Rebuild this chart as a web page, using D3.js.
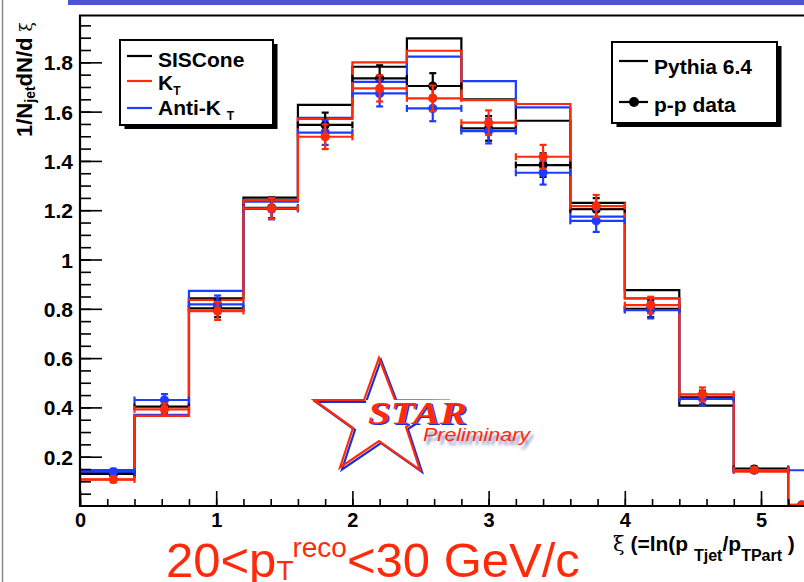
<!DOCTYPE html>
<html>
<head>
<meta charset="utf-8">
<script src="https://cdn.jsdelivr.net/npm/d3@7"></script>
<style>
body { margin: 0; background: #fff; }
svg { display: block; font-family: "Liberation Sans", Arial, Helvetica, sans-serif; }
</style>
</head>
<body>
<script>
//bin edges of xi (width 0.4)
var binEdges = [0, 0.4, 0.8, 1.2, 1.6, 2.0, 2.4, 2.8, 3.2, 3.6, 4.0, 4.4, 4.8, 5.2, 5.6];

//Pythia 6.4 histograms, one per jet algorithm
var pythiaSIScone = [0.133, 0.366, 0.842, 1.251, 1.627, 1.782, 1.897, 1.650, 1.563, 1.230, 0.876, 0.407, 0.152, 0.005];
var pythiaKt      = [0.107, 0.366, 0.836, 1.241, 1.570, 1.800, 1.847, 1.647, 1.631, 1.205, 0.842, 0.443, 0.139, 0.004];
var pythiaAntiKt  = [0.146, 0.370, 0.873, 1.235, 1.575, 1.721, 1.823, 1.724, 1.617, 1.174, 0.842, 0.435, 0.145, 0.145];

//p-p data points (mean xi of each bin) and errors
var dataXi      = [0.245, 0.62, 1.01, 1.407, 1.80, 2.20, 2.59, 3.0, 3.40, 3.79, 4.19, 4.57, 4.95, 5.30];
var dataSIScone = [0.130, 0.403, 0.802, 1.210, 1.546, 1.735, 1.704, 1.532, 1.383, 1.204, 0.800, 0.440, 0.150, 0.004];
var dataKt      = [0.108, 0.392, 0.791, 1.208, 1.498, 1.694, 1.654, 1.555, 1.417, 1.217, 0.815, 0.453, 0.146, 0.004];
var dataAntiKt  = [0.139, 0.430, 0.818, 1.205, 1.515, 1.674, 1.613, 1.521, 1.352, 1.157, 0.795, 0.436, 0.145, 0.004];
var dataErr     = [0.012, 0.024, 0.036, 0.042, 0.050, 0.053, 0.052, 0.050, 0.048, 0.045, 0.034, 0.028, 0.010, 0.005];

//ticks
var yTickVals = [0.2, 0.4, 0.6, 0.8, 1.0, 1.2, 1.4, 1.6, 1.8];
var xTickVals = [0, 1, 2, 3, 4, 5];

//legends
var algoNames = ["SISCone", "K", "Anti-K "];
var algoSubs = ["", "T", "T"];
var sourceNames = ["Pythia 6.4", "p-p data"];

var red = "#ff2a0a", blue = "#1e3cff", black = "#000";

var width = 804, height = 582;
var svg = d3.select("body").append("svg")
    .attr("width", width)
    .attr("height", height);

//slide decorations
svg.append("rect").attr("x", 68).attr("y", 0).attr("width", 736).attr("height", 5).attr("fill", "#4b54d6");
svg.append("line").attr("x1", 2.5).attr("x2", 2.5).attr("y1", 0).attr("y2", height)
    .attr("stroke", "#8a8a8a").attr("stroke-width", 1.5);

//scales
var x = d3.scaleLinear().domain([0, 5.32]).range([80, 804.6]);
var y = d3.scaleLinear().domain([0, 1.99]).range([506, 15.5]);

svg.append("clipPath").attr("id", "plotclip")
  .append("rect").attr("x", 80).attr("y", 10).attr("width", 730).attr("height", 497);

//STAR preliminary logo (drawn behind the histograms)
var logo = svg.append("g");
var starPts = [[379, 358], [395, 400], [447, 400.5], [406, 427], [420, 470], [379, 441],
               [340, 467.5], [353, 428], [314, 400], [364, 400]];
var defs = svg.append("defs");
defs.append("filter").attr("id", "blur").append("feGaussianBlur").attr("stdDeviation", 1.8);

logo.append("polygon")
    .attr("points", starPts.map(function(p) { return (p[0] + 2) + "," + (p[1] + 2); }).join(" "))
    .attr("fill", "none").attr("stroke", "#1a2fd8").attr("stroke-width", 2.2).attr("stroke-linejoin", "miter");
logo.append("polygon")
    .attr("points", starPts.map(function(p) { return p.join(","); }).join(" "))
    .attr("fill", "none").attr("stroke", red).attr("stroke-width", 2.2).attr("stroke-linejoin", "miter");

logo.append("rect").attr("x", 366).attr("y", 400).attr("width", 102).attr("height", 25).attr("fill", "#fff");
logo.append("text")
    .attr("x", 369.5).attr("y", 425)
    .attr("textLength", 99).attr("lengthAdjust", "spacingAndGlyphs")
    .style("font-family", "'Liberation Serif', 'Times New Roman', serif")
    .style("font-style", "italic").style("font-weight", "bold").style("font-size", "31px")
    .attr("fill", "#1a2fd8")
    .text("STAR");
logo.append("text")
    .attr("x", 368).attr("y", 423.5)
    .attr("textLength", 99).attr("lengthAdjust", "spacingAndGlyphs")
    .style("font-family", "'Liberation Serif', 'Times New Roman', serif")
    .style("font-style", "italic").style("font-weight", "bold").style("font-size", "31px")
    .attr("fill", red)
    .text("STAR");
logo.append("text")
    .attr("x", 426).attr("y", 445)
    .attr("textLength", 107).attr("lengthAdjust", "spacingAndGlyphs")
    .style("font-style", "italic").style("font-size", "19px")
    .attr("fill", "#7a86b8").attr("filter", "url(#blur)")
    .text("Preliminary");
logo.append("text")
    .attr("x", 423).attr("y", 441)
    .attr("textLength", 107).attr("lengthAdjust", "spacingAndGlyphs")
    .style("font-style", "italic").style("font-size", "19px")
    .attr("fill", red)
    .text("Preliminary");

//plot group
var plot = svg.append("g").attr("clip-path", "url(#plotclip)");

//histograms as step lines
var stepLine = d3.line()
    .x(function(d) { return x(d[0]); })
    .y(function(d) { return y(d[1]); })
    .curve(d3.curveStepAfter);

function histPoints(vals) {
  var pts = vals.map(function(v, i) { return [binEdges[i], v]; });
  pts.push([binEdges[vals.length], vals[vals.length - 1]]);
  return pts;
}

var hists = [
  {vals: pythiaSIScone, color: black},
  {vals: pythiaAntiKt, color: blue},
  {vals: pythiaKt, color: red}
];
hists.forEach(function(h) {
  plot.append("path")
      .attr("d", stepLine(histPoints(h.vals)))
      .attr("fill", "none")
      .attr("stroke", h.color)
      .attr("stroke-width", 2.2);
});

//data points with error bars
var dataSets = [
  {vals: dataSIScone, color: black},
  {vals: dataAntiKt, color: blue},
  {vals: dataKt, color: red}
];
dataSets.forEach(function(s) {
  var pts = s.vals.map(function(v, i) {
    return {x: dataXi[i], lo: binEdges[i], hi: binEdges[i + 1], v: v, e: dataErr[i]};
  });
  var g = plot.append("g").attr("stroke", s.color).attr("stroke-width", 2.2).attr("fill", s.color);
  var pt = g.selectAll("g").data(pts).enter().append("g");
  //horizontal bar over the bin
  pt.append("line")
      .attr("x1", function(d) { return x(d.lo); })
      .attr("x2", function(d) { return x(d.hi); })
      .attr("y1", function(d) { return y(d.v); })
      .attr("y2", function(d) { return y(d.v); });
  //end caps of horizontal bar
  ["lo", "hi"].forEach(function(k) {
    pt.append("line")
        .attr("x1", function(d) { return x(d[k]); })
        .attr("x2", function(d) { return x(d[k]); })
        .attr("y1", function(d) { return y(d.v) - 3.5; })
        .attr("y2", function(d) { return y(d.v) + 3.5; });
  });
  //vertical error
  pt.append("line")
      .attr("x1", function(d) { return x(d.x); })
      .attr("x2", function(d) { return x(d.x); })
      .attr("y1", function(d) { return y(d.v - d.e); })
      .attr("y2", function(d) { return y(d.v + d.e); });
  [-1, 1].forEach(function(sgn) {
    pt.append("line")
        .attr("x1", function(d) { return x(d.x) - 3.5; })
        .attr("x2", function(d) { return x(d.x) + 3.5; })
        .attr("y1", function(d) { return y(d.v + sgn * d.e); })
        .attr("y2", function(d) { return y(d.v + sgn * d.e); });
  });
  pt.append("circle")
      .attr("cx", function(d) { return x(d.x); })
      .attr("cy", function(d) { return y(d.v); })
      .attr("r", 4.6)
      .attr("stroke", "none");
});

//frame
svg.append("path")
    .attr("d", "M804," + y.range()[1] + "H80V506H804")
    .attr("fill", "none").attr("stroke", "#000").attr("stroke-width", 2.2);

//axes: ticks inside, labels outside
var yMinor = d3.range(0.05, 1.96, 0.05);
var xMinor = d3.range(0, 5.3, 0.2);

function cleanAxis(sel) { sel.select(".domain").remove(); }

svg.append("g").attr("transform", "translate(80,0)")
    .call(d3.axisRight(y).tickValues(yMinor).tickSize(11).tickFormat(""))
    .call(cleanAxis).selectAll("line").attr("stroke-width", 1.6);
svg.append("g").attr("transform", "translate(80,0)")
    .call(d3.axisRight(y).tickValues(yTickVals).tickSize(22).tickFormat(""))
    .call(cleanAxis).selectAll("line").attr("stroke-width", 1.6);
svg.append("g").attr("transform", "translate(80,0)")
    .call(d3.axisLeft(y).tickValues(yTickVals).tickSize(0).tickPadding(7)
      .tickFormat(function(d) { return d == 1 ? "1" : d.toFixed(1); }))
    .call(cleanAxis)
    .selectAll("text")
      .attr("dy", "0.36em")
      .style("font-family", "'Liberation Sans', Arial, sans-serif")
      .style("font-weight", "bold").style("font-size", "21px").attr("fill", "#000");

svg.append("g").attr("transform", "translate(0,506)")
    .call(d3.axisTop(x).tickValues(xMinor).tickSize(7).tickFormat(""))
    .call(cleanAxis).selectAll("line").attr("stroke-width", 1.6);
svg.append("g").attr("transform", "translate(0,506)")
    .call(d3.axisTop(x).tickValues(xTickVals).tickSize(15).tickFormat(""))
    .call(cleanAxis).selectAll("line").attr("stroke-width", 1.6);
svg.append("g").attr("transform", "translate(0,506)")
    .call(d3.axisBottom(x).tickValues(xTickVals).tickSize(0).tickPadding(7).tickFormat(d3.format("d")))
    .call(cleanAxis)
    .selectAll("text")
      .style("font-family", "'Liberation Sans', Arial, sans-serif")
      .style("font-weight", "bold").style("font-size", "20px").attr("fill", "#000");

//y axis title
var yt = svg.append("text")
    .attr("transform", "translate(32,137) rotate(-90)")
    .style("font-weight", "bold").style("font-size", "22px");
yt.append("tspan").text("1/N");
yt.append("tspan").style("font-size", "14px").attr("dy", 3).text("jet");
yt.append("tspan").attr("dy", -3).text("dN/d ");
yt.append("tspan").style("font-weight", "normal").style("font-family", "'DejaVu Serif', serif")
    .style("font-size", "17px").text("ξ");

//x axis title
var xt = svg.append("text")
    .attr("x", 613).attr("y", 551)
    .style("font-weight", "bold").style("font-size", "21px");
xt.append("tspan").style("font-weight", "normal").style("font-family", "'DejaVu Serif', serif").text("ξ");
xt.append("tspan").text(" (=ln(p ");
xt.append("tspan").style("font-size", "16px").attr("dy", 10).text("Tjet");
xt.append("tspan").attr("dy", -10).text("/p");
xt.append("tspan").style("font-size", "16px").attr("dy", 10).text("TPart");
xt.append("tspan").attr("dy", -10).text(" )");

//red pT range label
var lab = svg.append("text")
    .attr("x", 166).attr("y", 577)
    .attr("fill", red).style("font-size", "49px");
lab.append("tspan").text("20<p");
lab.append("tspan").style("font-size", "28px").attr("dy", 3).text("T");
lab.append("tspan").style("font-size", "28px").attr("dy", -23).text("reco");
lab.append("tspan").attr("dy", 20).text("<30 GeV/c");

//legend box with drop shadow
function legendBox(x0, y0, w, h) {
  svg.append("rect").attr("x", x0 + 4.5).attr("y", y0 + 4).attr("width", w).attr("height", h).attr("fill", "#000");
  svg.append("rect").attr("x", x0).attr("y", y0).attr("width", w).attr("height", h)
      .attr("fill", "#fff").attr("stroke", "#000").attr("stroke-width", 2);
}

//left legend (jet algorithms)
legendBox(120, 40, 153, 85);
var algoColors = [black, red, blue];
var algoLineY = [56, 81, 108];
var algoTextY = [67, 90, 115];
algoNames.forEach(function(n, i) {
  svg.append("line").attr("x1", 127).attr("x2", 152).attr("y1", algoLineY[i]).attr("y2", algoLineY[i])
      .attr("stroke", algoColors[i]).attr("stroke-width", 2.2);
  var t = svg.append("text").attr("x", 158).attr("y", algoTextY[i])
      .style("font-weight", "bold").style("font-size", "21px").text(n);
  if (algoSubs[i]) t.append("tspan").style("font-size", "12px").attr("dy", 5).text(algoSubs[i]);
});

//right legend (Pythia vs data)
legendBox(612, 42, 165, 81);
svg.append("line").attr("x1", 619).attr("x2", 648).attr("y1", 61).attr("y2", 61)
    .attr("stroke", "#000").attr("stroke-width", 2.2);
svg.append("line").attr("x1", 619).attr("x2", 648).attr("y1", 102).attr("y2", 102)
    .attr("stroke", "#000").attr("stroke-width", 2.2);
svg.append("circle").attr("cx", 634).attr("cy", 102).attr("r", 5);
svg.append("text").attr("x", 654).attr("y", 74)
    .style("font-weight", "bold").style("font-size", "21px").text(sourceNames[0]);
svg.append("text").attr("x", 654).attr("y", 111.5)
    .style("font-weight", "bold").style("font-size", "21px").text(sourceNames[1]);
</script>
</body>
</html>
